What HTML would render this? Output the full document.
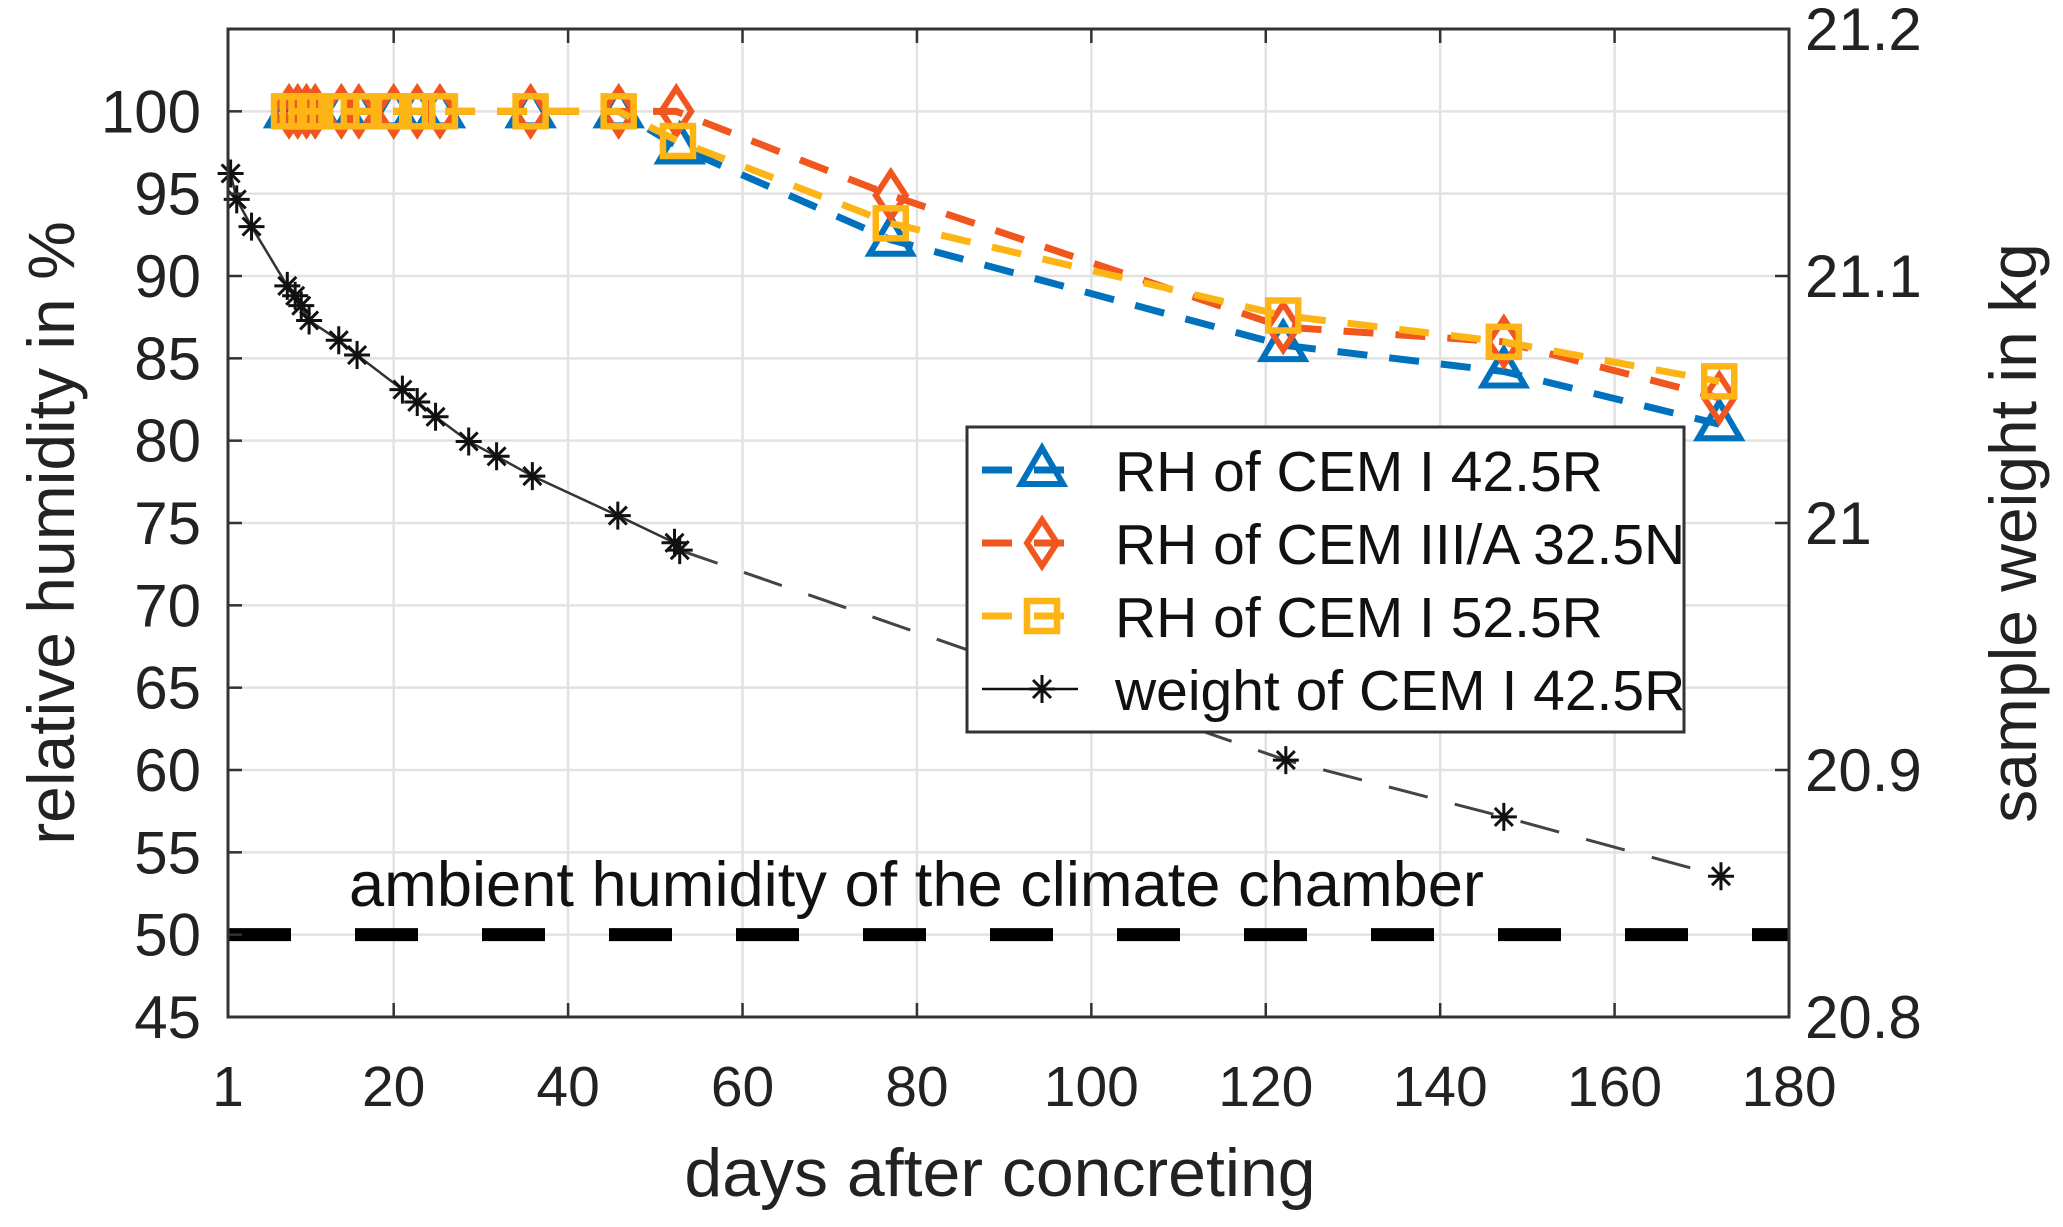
<!DOCTYPE html>
<html><head><meta charset="utf-8"><style>
html,body{margin:0;padding:0;background:#fff;}
svg{display:block;font-family:"Liberation Sans",Arial,sans-serif;}
</style></head><body>
<svg id="chart" width="2063" height="1227" viewBox="0 0 2063 1227" xmlns="http://www.w3.org/2000/svg">
<g id="grid"></g>
<g id="series"></g>
<g id="axes"></g>
<text x="349" y="906" font-size="63" fill="#111" textLength="1135" lengthAdjust="spacingAndGlyphs">ambient humidity of the climate chamber</text>
<text x="1000" y="1196" font-size="68" text-anchor="middle" fill="#222">days after concreting</text>
<text transform="translate(74,533) rotate(-90)" font-size="66" text-anchor="middle" fill="#222">relative humidity in %</text>
<text transform="translate(2036,533) rotate(-90)" font-size="66" text-anchor="middle" fill="#222">sample weight in kg</text>
<g id="legend"></g>
</svg>
<script>
const xTicks=[1,20,40,60,80,100,120,140,160,180];
const yLeftTicks=[45,50,55,60,65,70,75,80,85,90,95,100];
const yRightTicks=[20.8,20.9,21,21.1,21.2];
const yRightLabels=["20.8","20.9","21","21.1","21.2"];
const rhDaysA=[8,9,10,11,14,16,20,22.7,25.3,35.7,45.8,52.8,77,122,147.3,172];
const rhCem425=[100,100,100,100,100,100,100,100,100,100,100,97.8,92.2,85.8,84.2,81];
const rhDaysB=[8,9,10,11,14,16,20,22.7,25.3,35.7,45.8,52.4,77,122,147.3,172];
const rhCem3=[100,100,100,100,100,100,100,100,100,100,100,100,94.9,86.9,86,82.6];
const rhDaysC=[8,9,10,11,14,16,20,22.7,25.3,35.7,45.8,52.6,77,122,147.3,172];
const rhCem525=[100,100,100,100,100,100,100,100,100,100,100,98.2,93.2,87.6,86,83.6];
const wDays=[1.3,2,3.7,7.8,8.7,9.4,10.3,13.7,15.8,21,22.7,24.8,28.6,31.8,35.9,45.7,52.2,52.8,122.3,147.3,172.2];
const wValues=[21.1415,21.131,21.12,21.096,21.092,21.088,21.082,21.074,21.068,21.054,21.049,21.043,21.033,21.027,21.019,21.003,20.992,20.989,20.904,20.881,20.857];
const ambient=[50];

const L=228,R=1789,T=29,B=1017;
const X=v=>L+(v-1)/179*(R-L);
const YL=v=>B-(v-45)/60*(B-T);
const YR=w=>B-(w-20.8)/0.4*(B-T);
const NS="http://www.w3.org/2000/svg";
function mk(tag,attrs,parent){const e=document.createElementNS(NS,tag);for(const k in attrs)e.setAttribute(k,attrs[k]);parent.appendChild(e);return e;}
const grid=document.getElementById('grid'),axes=document.getElementById('axes'),ser=document.getElementById('series'),leg=document.getElementById('legend');

xTicks.forEach(t=>{
  if(t>1&&t<180){const g=mk('line',{x1:X(t),x2:X(t),y1:T,y2:B,stroke:'#e2e2e2','stroke-width':2.5},grid);
  
  }
  const tk=mk('path',{d:`M${X(t)} ${B}v-14M${X(t)} ${T}v14`,stroke:'#333','stroke-width':2.5},axes);
  
  
  const lb=mk('text',{x:X(t),y:1106,'font-size':57,'text-anchor':'middle',fill:'#222'},axes);lb.textContent=t;
  
  
});
yLeftTicks.forEach(t=>{
  if(t>45){const g=mk('line',{x1:L,x2:R,y1:YL(t),y2:YL(t),stroke:'#e2e2e2','stroke-width':2.5},grid);
  
  }
  const tk=mk('path',{d:`M${L} ${YL(t)}h14`,stroke:'#333','stroke-width':2.5},axes);
  
  
  const lb=mk('text',{x:201,y:YL(t)+21,'font-size':60,'text-anchor':'end',fill:'#222'},axes);lb.textContent=t;
  
  
});
yRightTicks.forEach((t,i)=>{
  const tk=mk('path',{d:`M${R} ${YR(t)}h-14`,stroke:'#333','stroke-width':2.5},axes);
  
  
  const lb=mk('text',{x:1805,y:YR(t)+21,'font-size':60,fill:'#222'},axes);lb.textContent=yRightLabels[i];
  
  
});
const frame=mk('rect',{x:L,y:T,width:R-L,height:B-T,fill:'none',stroke:'#333','stroke-width':3},axes);



const amb=mk('line',{x1:L,x2:R,y1:YL(ambient[0]),y2:YL(ambient[0]),stroke:'#000','stroke-width':13,'stroke-dasharray':'63 64'},ser);



function marker(type,cx,cy,color,parent){
  let e;
  if(type==='tri') e=mk('path',{d:`M${cx} ${cy-22}L${cx+21} ${cy+14}L${cx-21} ${cy+14}Z`,fill:'none',stroke:color,'stroke-width':6},parent);
  else if(type==='dia') e=mk('path',{d:`M${cx} ${cy-23}L${cx+15} ${cy}L${cx} ${cy+23}L${cx-15} ${cy}Z`,fill:'none',stroke:color,'stroke-width':6},parent);
  else if(type==='sq') e=mk('rect',{x:cx-15,y:cy-15,width:30,height:30,fill:'none',stroke:color,'stroke-width':6.5},parent);
  else e=mk('path',{d:`M${cx-13} ${cy}h26M${cx} ${cy-14}v28M${cx-9} ${cy-9}l18 18M${cx+9} ${cy-9}l-18 18`,stroke:color,'stroke-width':3},parent);
  return e;
}
function rhSeries(days,vals,color,type,name){
  const g=mk('g',{},ser);
  
  
  const pts=days.map((d,i)=>X(d)+','+YL(vals[i])).join(' ');
  const ln=mk('polyline',{points:pts,fill:'none',stroke:color,'stroke-width':7,'stroke-dasharray':'30 22'},g);
  
  
  days.forEach((d,i)=>{const m=marker(type,X(d),YL(vals[i]),color,g);
    
    });
}
rhSeries(rhDaysA,rhCem425,'#0072BD','tri','rh-cem-i-42-5r');
rhSeries(rhDaysB,rhCem3,'#F0561D','dia','rh-cem-iii-a-32-5n');
rhSeries(rhDaysC,rhCem525,'#FDB515','sq','rh-cem-i-52-5r');

const wg=mk('g',{},ser);


const solid=[],dashed=[];
wDays.forEach((d,i)=>{const p=X(d)+','+YR(wValues[i]);if(d<=53)solid.push(p);if(d>=52.8)dashed.push(p);});
const wl1=mk('polyline',{points:solid.join(' '),fill:'none',stroke:'#333','stroke-width':2.5},wg);


const wl2=mk('polyline',{points:dashed.join(' '),fill:'none',stroke:'#444','stroke-width':3,'stroke-dasharray':'40 28'},wg);


wDays.forEach((d,i)=>{const m=marker('star',X(d),YR(wValues[i]),'#111',wg);
  
  });

const box=mk('rect',{x:967,y:427,width:717,height:305,fill:'#fff',stroke:'#333','stroke-width':3},leg);


const legItems=[['RH of CEM I 42.5R','#0072BD','tri',470],['RH of CEM III/A 32.5N','#F0561D','dia',543],['RH of CEM I 52.5R','#FDB515','sq',616],['weight of CEM I 42.5R','#111','star',689]];
legItems.forEach(it=>{
  const g=mk('g',{},leg);
  
  
  mk('line',{x1:982,x2:1078,y1:it[3],y2:it[3],stroke:it[1],'stroke-width':it[2]==='star'?2.5:7,'stroke-dasharray':it[2]==='star'?'none':'30 22'},g);
  marker(it[2],1042,it[3],it[1],g);
  const t=mk('text',{x:1115,y:it[3]+21,'font-size':57,fill:'#111'},g);t.textContent=it[0];
});
</script>
</body></html>
